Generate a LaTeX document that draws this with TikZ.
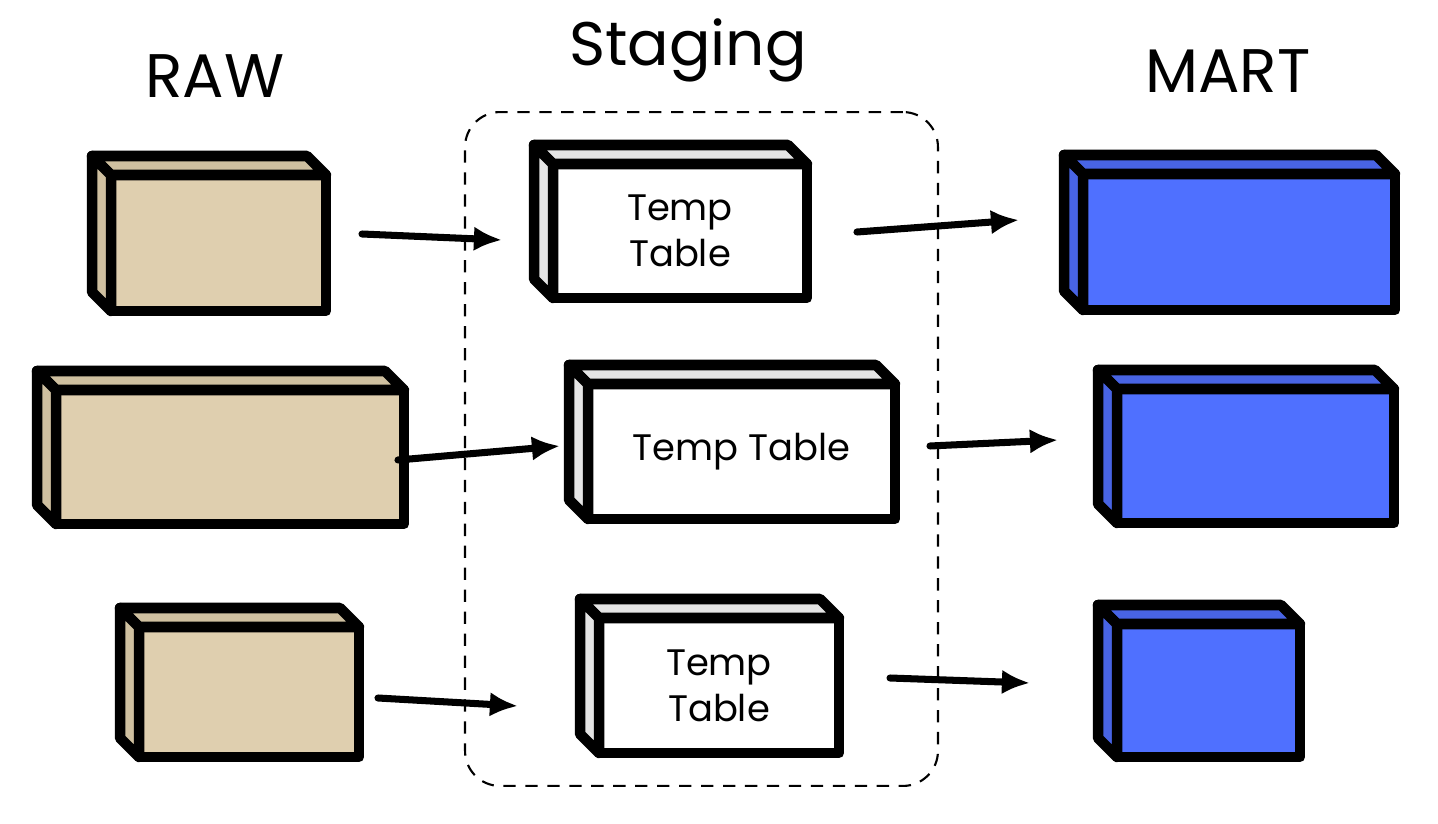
\documentclass[tikz,border=0pt]{standalone}
\usepackage{fontspec}
\setmainfont{Poppins}
\usepackage{xcolor}
\usepackage{tikz}
\usetikzlibrary{positioning,arrows.meta}

\definecolor{rawfill}{RGB}{223,207,175}
\definecolor{rawside}{RGB}{207,192,160}
\definecolor{martfill}{RGB}{79,112,255}
\definecolor{martside}{RGB}{72,100,228}
\definecolor{stgside}{RGB}{228,228,228}

% back faces of a box, drawn behind-left of its front node
\newcommand{\boxdepth}[2]{%
    \draw[edge, fill=#2] (#1.north west) -- ++(-19,-19)
        -- ([shift={(-19,-19)}]#1.north east) -- (#1.north east) -- cycle;
    \draw[edge, fill=#2] (#1.north west) -- ++(-19,-19)
        -- ([shift={(-19,-19)}]#1.south west) -- (#1.south west) -- cycle;
}

\begin{document}
\begin{tikzpicture}[
    x=0.02cm, y=-0.02cm,
    edge/.style={
        line width=6pt,
        line join=round
    },
    tablebox/.style={
        draw,
        edge,
        rectangle,
        outer sep=0pt,
        inner sep=0pt,
        align=center,
        font=\fontsize{21}{26}\selectfont
    },
    rawbox/.style={tablebox, fill=rawfill},
    stgbox/.style={tablebox, fill=white},
    martbox/.style={tablebox, fill=martfill},
    layer/.style={
        font=\fontsize{35}{40}\selectfont
    },
    flow/.style={
        -{Latex[length=16pt,width=14pt]},
        line width=4pt,
        line cap=round
    },
    group/.style={
        draw,
        dashed,
        dash pattern=on 7pt off 5.5pt,
        line width=1.2pt,
        rounded corners=0.7cm,
        minimum width=9.46cm,
        minimum height=13.48cm
    }
]
    \useasboundingbox (0,0) rectangle (1438,824);

    % Layer titles
    \node[layer] (rawtitle) at (215,76) {RAW};
    \node[layer] (stgtitle) at (688,50) {Staging};
    \node[layer] (marttitle) at (1228,71) {MART};

    % Staging area
    \node[group] (staging) at (701.5,449) {};

    % RAW tables
    \node[rawbox, minimum width=4.30cm, minimum height=2.72cm] (raw1) at (218.5,243) {};
    \node[rawbox, minimum width=6.96cm, minimum height=2.68cm] (raw2) at (230,457) {};
    \node[rawbox, minimum width=4.40cm, minimum height=2.60cm] (raw3) at (249,692) {};
    \boxdepth{raw1}{rawside}
    \boxdepth{raw2}{rawside}
    \boxdepth{raw3}{rawside}

    % Staging tables
    \node[stgbox, minimum width=5.08cm, minimum height=2.68cm] (stg1) at (680,231) {Temp\\Table};
    \node[stgbox, minimum width=6.14cm, minimum height=2.70cm] (stg2) at (741.5,451.5) {Temp Table};
    \node[stgbox, minimum width=4.80cm, minimum height=2.70cm] (stg3) at (719,685.5) {Temp\\Table};
    \boxdepth{stg1}{stgside}
    \boxdepth{stg2}{stgside}
    \boxdepth{stg3}{stgside}

    % MART tables
    \node[martbox, minimum width=6.24cm, minimum height=2.72cm] (mart1) at (1239,242) {};
    \node[martbox, minimum width=5.54cm, minimum height=2.68cm] (mart2) at (1255.5,456) {};
    \node[martbox, minimum width=3.66cm, minimum height=2.66cm] (mart3) at (1208.5,690.5) {};
    \boxdepth{mart1}{martside}
    \boxdepth{mart2}{martside}
    \boxdepth{mart3}{martside}

    % RAW -> Staging
    \draw[flow] ([shift={(36,-9)}]raw1.east) -- ([shift={(-51,9)}]stg1.west);
    \draw[flow] ([shift={(-6,3)}]raw2.east) -- ([shift={(-28,-5.5)}]stg2.west);
    \draw[flow] ([shift={(19,6)}]raw3.east) -- ([shift={(-81,20.5)}]stg3.west);

    % Staging -> MART
    \draw[flow] ([shift={(50,1)}]stg1.east) -- ([shift={(-64,-22)}]mart1.west);
    \draw[flow] ([shift={(35,-5.5)}]stg2.east) -- ([shift={(-59,-16)}]mart2.west);
    \draw[flow] ([shift={(51,-7.5)}]stg3.east) -- ([shift={(-87,-7.5)}]mart3.west);

\end{tikzpicture}
\end{document}
